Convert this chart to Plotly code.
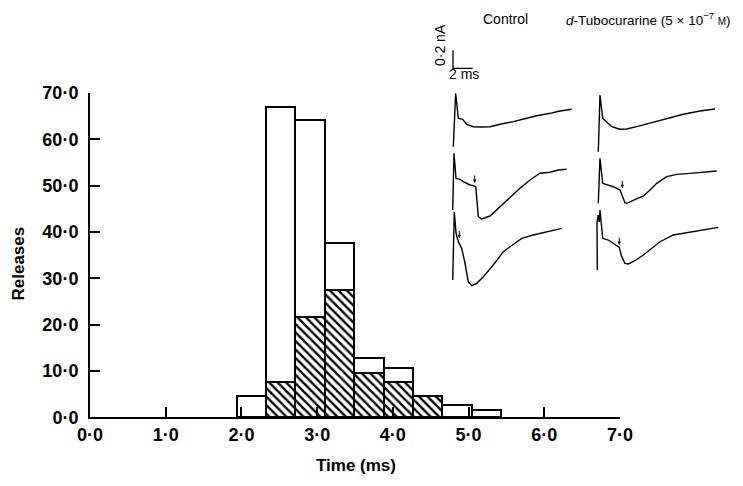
import plotly.graph_objects as go

# ---------------- histogram data ----------------
bin_edges = [1.94, 2.33, 2.71, 3.10, 3.49, 3.88, 4.27, 4.65, 5.04, 5.43]   # ms
releases_total = [4.6, 67.0, 64.1, 37.6, 12.7, 10.7, 4.5, 2.7, 1.6]
releases_tc = [0.0, 7.7, 21.6, 27.5, 9.5, 7.6, 4.5, 0.0, 0.0]            # hatched

x_tickvals = [0, 1, 2, 3, 4, 5, 6, 7]
x_ticktext = ["0·0", "1·0", "2·0", "3·0", "4·0", "5·0", "6·0", "7·0"]
y_tickvals = [0, 10, 20, 30, 40, 50, 60, 70]
y_ticktext = ["0·0", "10·0", "20·0", "30·0", "40·0", "50·0", "60·0", "70·0"]

# ---------------- inset current traces (t in ms from stimulus, I in nA re start) ----------------
ctrl1_t = [0, 0.24, 0.51, 0.95, 1.36, 2.03, 2.71, 3.73, 4.74, 6.09, 7.45, 8.47, 9.82, 10.83, 12.02]
ctrl1_i = [0, 0.593, 0.316, 0.304, 0.249, 0.222, 0.219, 0.222, 0.249, 0.278, 0.316, 0.344, 0.371, 0.397, 0.416]
ctrl2_t = [0, 0.13, 0.34, 0.74, 1.08, 1.76, 2.09, 2.34, 2.60, 2.94, 3.79, 4.80, 5.82, 6.83, 7.85, 8.86, 9.88, 10.72, 11.57]
ctrl2_i = [0, 0.63, 0.352, 0.341, 0.314, 0.278, 0.270, 0.259, -0.074, -0.100, -0.067, 0.037, 0.148, 0.241, 0.333, 0.408, 0.419, 0.444, 0.452]
ctrl3_t = [0, 0.16, 0.34, 0.57, 0.91, 1.25, 1.58, 1.93, 2.44, 3.11, 4.12, 5.14, 5.82, 7.01, 8.18, 9.54, 11.07]
ctrl3_i = [0, 0.759, 0.519, 0.426, 0.352, 0.186, -0.019, -0.063, -0.037, 0.037, 0.167, 0.314, 0.370, 0.463, 0.500, 0.537, 0.574]
dtc1_t = [0, 0.17, 0.45, 0.78, 1.36, 2.20, 2.88, 3.90, 5.25, 6.94, 8.63, 10.32, 11.85]
dtc1_i = [0, 0.630, 0.371, 0.333, 0.278, 0.249, 0.252, 0.278, 0.316, 0.371, 0.416, 0.452, 0.474]
dtc2_t = [0, 0.17, 0.45, 0.78, 1.52, 2.20, 2.71, 2.88, 3.55, 4.57, 5.25, 5.93, 6.94, 7.96, 9.31, 10.66, 12.02]
dtc2_i = [0, 0.50, 0.222, 0.211, 0.184, 0.148, 0.007, 0.0, 0.029, 0.081, 0.148, 0.222, 0.296, 0.322, 0.333, 0.344, 0.359]
dtc3_t = [0, -0.03, 0.10, 0.20, 0.27, 0.55, 1.12, 1.62, 2.23, 2.48, 2.81, 3.15, 3.83, 4.67, 5.52, 6.37, 7.72, 9.08, 10.76, 12.28]
dtc3_i = [0, 0.533, 0.611, 0.533, 0.667, 0.352, 0.333, 0.297, 0.252, 0.148, 0.074, 0.067, 0.103, 0.167, 0.241, 0.314, 0.389, 0.414, 0.452, 0.474]
# arrows marking onset of the delayed release (t ms, I nA) for ctrl2, ctrl3, dtc2, dtc3
arrow_t = [2.23, 0.67, 2.44, 2.23]
arrow_i = [0.300, 0.463, 0.167, 0.278]
scale_ms = 2.0
scale_na = 0.2

# ---------------- layout constants ----------------
PAGE_W, PAGE_H = 743, 486
BODY = 8                       # default page margin around the plot div
W, H = PAGE_W - BODY, PAGE_H - 2 * BODY
PX_PER_MS = 9.85
PX_PER_NA = 90.0
FONT = "Liberation Sans"

def fx(px):      # page x pixel -> figure fraction
    return (px - BODY) / W

def fy(py):      # page y pixel -> figure fraction (from bottom)
    return 1 - (py - BODY) / H

def inset_x(px):
    return (px - BODY) / PX_PER_MS

def inset_y(py):
    return -(py - BODY) / PX_PER_NA

fig = go.Figure()

centers = [(bin_edges[i] + bin_edges[i + 1]) / 2 for i in range(len(releases_total))]
widths = [bin_edges[i + 1] - bin_edges[i] for i in range(len(releases_total))]

fig.add_trace(go.Bar(
    x=centers, y=releases_total, width=widths,
    marker=dict(color="white", line=dict(color="black", width=2)),
    xaxis="x", yaxis="y", showlegend=False, hoverinfo="skip"))

hc = [c for c, v in zip(centers, releases_tc) if v > 0]
hw = [w for w, v in zip(widths, releases_tc) if v > 0]
hv = [v for v in releases_tc if v > 0]
fig.add_trace(go.Bar(
    x=hc, y=hv, width=hw,
    marker=dict(color="white", line=dict(color="black", width=2),
                pattern=dict(shape="\\", fgcolor="black", bgcolor="white",
                             size=6, solidity=0.38)),
    xaxis="x", yaxis="y", showlegend=False, hoverinfo="skip"))

# inset traces: origins in page pixel placement
traces = [
    (ctrl1_t, ctrl1_i, 453.3, 146.7),
    (ctrl2_t, ctrl2_i, 452.7, 210.0),
    (ctrl3_t, ctrl3_i, 452.7, 280.0),
    (dtc1_t, dtc1_i, 598.3, 151.7),
    (dtc2_t, dtc2_i, 598.3, 203.3),
    (dtc3_t, dtc3_i, 597.3, 270.0),
]
for t, i, ox, oy in traces:
    fig.add_trace(go.Scatter(
        x=[inset_x(ox) + v for v in t], y=[inset_y(oy) + v for v in i],
        mode="lines", line=dict(color="black", width=1.4),
        xaxis="x2", yaxis="y2", showlegend=False, hoverinfo="skip"))

arrow_origins = [traces[1], traces[2], traces[4], traces[5]]
annotations = []
for (t, i, ox, oy), at, ai in zip(arrow_origins, arrow_t, arrow_i):
    annotations.append(dict(
        x=inset_x(ox) + at, y=inset_y(oy) + ai, xref="x2", yref="y2",
        ax=0, ay=-9, showarrow=True, arrowhead=2, arrowsize=0.7,
        arrowwidth=1, arrowcolor="black", text=""))

# scale bar
sb_x, sb_y = 453.0, 68.3
fig.add_trace(go.Scatter(
    x=[inset_x(sb_x), inset_x(sb_x), inset_x(sb_x) + scale_ms],
    y=[inset_y(sb_y) + scale_na, inset_y(sb_y), inset_y(sb_y)],
    mode="lines", line=dict(color="black", width=1.3),
    xaxis="x2", yaxis="y2", showlegend=False, hoverinfo="skip"))

def ptext(text, px, py, size, **kw):
    d = dict(text=text, x=fx(px), y=fy(py), xref="paper", yref="paper",
             xanchor="center", yanchor="middle", showarrow=False,
             font=dict(family=FONT, size=size, color="black"))
    d.update(kw)
    return d

annotations += [
    ptext("0·2 nA", 440, 45, 14, textangle=-90),
    ptext("2 ms", 464, 74, 14),
    ptext("Control", 505, 19, 14),
    ptext("<i>d</i>-Tubocurarine (5 × 10<sup>−7</sup> <span style='font-size:10px'>M</span>)",
          733, 19, 13.5, xanchor="right"),
    ptext("<b>Releases</b>", 17.5, 264, 17, textangle=-90),
    ptext("<b>Time (ms)</b>", 356, 477, 17, yanchor="bottom"),
]

tickfont = dict(family=FONT, size=18, color="black", weight="bold")

fig.update_layout(
    template="none",
    width=W, height=H, margin=dict(l=0, r=0, t=0, b=0, pad=0),
    paper_bgcolor="white", plot_bgcolor="rgba(0,0,0,0)",
    barmode="overlay", bargap=0,
    xaxis=dict(domain=[fx(90), fx(620)], range=[0, 7], tickvals=x_tickvals,
               ticktext=x_ticktext, showgrid=False, zeroline=False,
               showline=True, linecolor="black", linewidth=2,
               ticks="inside", ticklen=10, tickwidth=1.5, tickcolor="black",
               tickfont=tickfont, anchor="y", fixedrange=True, automargin=False),
    yaxis=dict(domain=[fy(417.3), fy(93)], range=[0, 70],
               tickvals=y_tickvals, ticktext=y_ticktext, showgrid=False,
               zeroline=False, showline=True, linecolor="black", linewidth=2,
               ticks="inside", ticklen=10, tickwidth=1.5, tickcolor="black",
               ticklabelstandoff=6,
               tickfont=tickfont, anchor="x", fixedrange=True, automargin=False),
    xaxis2=dict(domain=[0, 1], range=[0, W / PX_PER_MS], visible=False,
                anchor="y2", fixedrange=True, automargin=False),
    yaxis2=dict(domain=[0, 1], range=[-H / PX_PER_NA, 0], visible=False,
                anchor="x2", fixedrange=True, automargin=False),
    annotations=annotations,
)

fig.write_html("out.html")
